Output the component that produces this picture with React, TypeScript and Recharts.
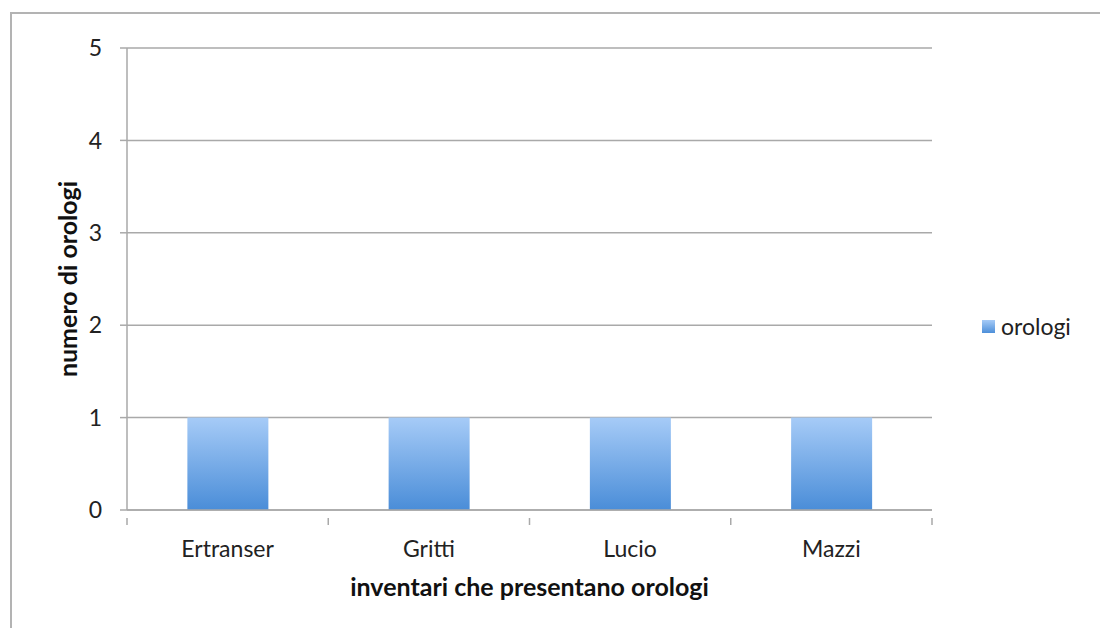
import { Bar, BarChart, CartesianGrid, Legend, XAxis, YAxis } from 'recharts';

const categories = ['Ertranser', 'Gritti', 'Lucio', 'Mazzi'];
const orologi = [1, 1, 1, 1];
const yTicks = [0, 1, 2, 3, 4, 5];

const data = categories.map((name, i) => ({ name, orologi: orologi[i] }));

const FONT = 'Lato, "Open Sans", sans-serif';
const AXIS_GRAY = '#a9a9a9';

// category label plus boundary tick marks (ticks sit between categories, like Excel)
const CategoryTick = (props: any) => {
  const { x, y, payload, index } = props;
  const half = payload.offset ?? 0;
  const last = index === categories.length - 1;
  return (
    <g>
      <line x1={x - half} y1={y} x2={x - half} y2={y + 7} stroke={AXIS_GRAY} strokeWidth={1.5} />
      {last && <line x1={x + half} y1={y} x2={x + half} y2={y + 7} stroke={AXIS_GRAY} strokeWidth={1.5} />}
      <text x={x} y={y + 33} textAnchor="middle" dominantBaseline="middle" fontSize={23} fill="#222" fontFamily={FONT}>
        {payload.value}
      </text>
    </g>
  );
};

const LegendContent = (props: any) => {
  const { payload } = props;
  return (
    <div style={{ fontFamily: FONT, fontSize: 23, color: '#222' }}>
      {payload.map((p: any) => (
        <div key={p.value} style={{ display: 'flex', alignItems: 'center' }}>
          <span
            style={{
              display: 'inline-block',
              width: 13,
              height: 13,
              marginRight: 6,
              background: 'linear-gradient(#a6cbf7, #4d8fd9)',
            }}
          />
          <span>{p.value}</span>
        </div>
      ))}
    </div>
  );
};

export default function App() {
  return (
    <div style={{ position: 'fixed', left: 0, top: 0, width: 1100, height: 628, overflow: 'hidden', background: '#fff' }}>
      <div
        style={{
          position: 'absolute',
          left: 10,
          top: 12,
          width: 1200,
          height: 700,
          border: '2px solid #b3b3b3',
        }}
      />
      <BarChart
        width={1100}
        height={628}
        data={data}
        margin={{ top: 48, right: 48, bottom: 28, left: 0 }}
        barCategoryGap="30%"
        style={{ position: 'absolute', left: 0, top: 0 }}
      >
        <defs>
          <linearGradient id="barFill" x1="0" y1="0" x2="0" y2="1">
            <stop offset="0%" stopColor="#a6cbf7" />
            <stop offset="100%" stopColor="#4a8dd8" />
          </linearGradient>
        </defs>
        <CartesianGrid vertical={false} stroke={AXIS_GRAY} strokeWidth={1.5} />
        <XAxis
          dataKey="name"
          height={90}
          axisLine={{ stroke: AXIS_GRAY, strokeWidth: 1.5 }}
          tickLine={false}
          tick={<CategoryTick />}
          interval={0}
          label={{
            value: 'inventari che presentano orologi',
            position: 'insideBottom',
            offset: 4,
            fontSize: 25,
            fontWeight: 'bold',
            fill: '#111',
            fontFamily: FONT,
          }}
        />
        <YAxis
          width={127}
          domain={[0, 5]}
          ticks={yTicks}
          axisLine={{ stroke: AXIS_GRAY, strokeWidth: 1.5 }}
          tickLine={{ stroke: AXIS_GRAY, strokeWidth: 1.5 }}
          tickSize={7}
          tickMargin={18}
          tick={{ fontSize: 23, fill: '#222', fontFamily: FONT }}
          label={{
            value: 'numero di orologi',
            angle: -90,
            position: 'center',
            dx: 5,
            fontSize: 25,
            fontWeight: 'bold',
            fill: '#111',
            fontFamily: FONT,
          }}
        />
        <Legend
          layout="vertical"
          align="right"
          verticalAlign="top"
          content={<LegendContent />}
          wrapperStyle={{ left: 982, top: 312, width: 120 }}
        />
        <Bar dataKey="orologi" fill="url(#barFill)" isAnimationActive={false} />
      </BarChart>
    </div>
  );
}
